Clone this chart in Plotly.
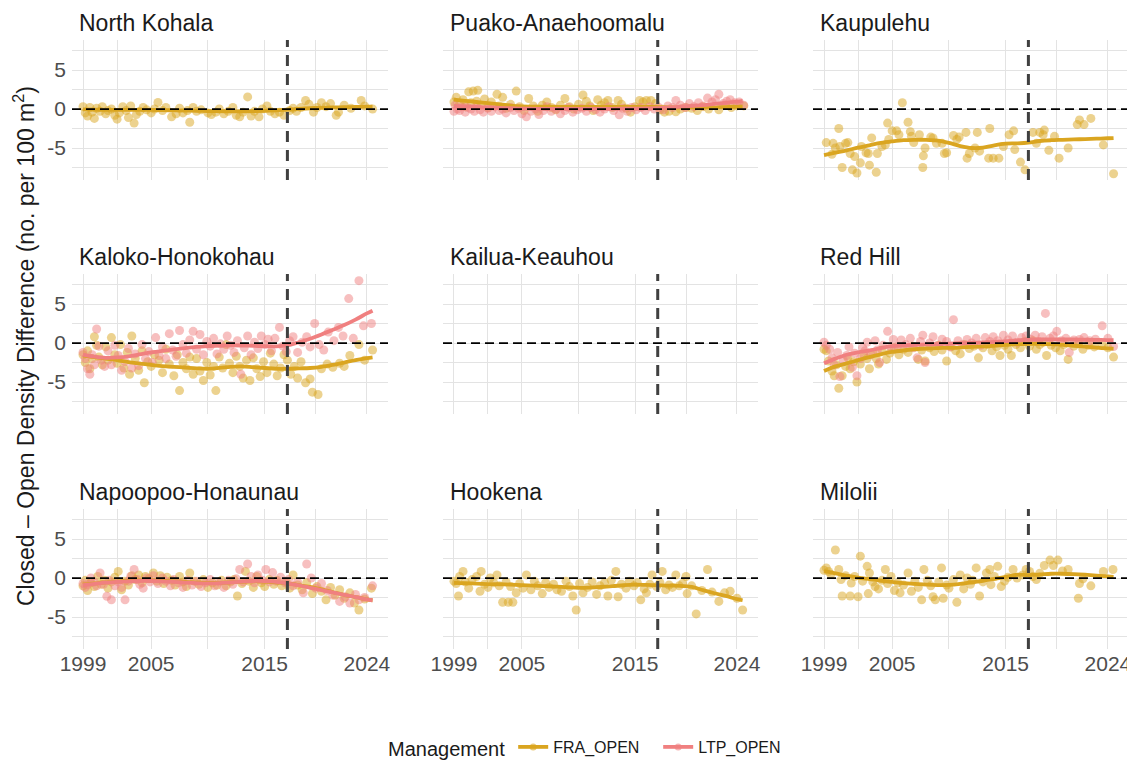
import plotly.graph_objects as go

# ---------------- data ----------------
PANELS = ["North Kohala", "Puako-Anaehoomalu", "Kaupulehu",
          "Kaloko-Honokohau", "Kailua-Keauhou", "Red Hill",
          "Napoopoo-Honaunau", "Hookena", "Milolii"]
SERIES = ["FRA_OPEN", "LTP_OPEN"]

X_TICKS = [1999, 2005, 2015, 2024]
X_MINOR = [2002, 2010, 2019.5]
Y_TICKS = [-5, 0, 5]
Y_MINOR = [-7.5, -2.5, 2.5, 7.5]
CLOSURE_YEAR = 2017
ZERO_LINE = 0
X_RANGE = [1998.03, 2025.86]
Y_RANGE = [-9.1, 8.85]

SMOOTH_YEARS = [1999, 2000, 2001, 2002, 2003, 2004, 2005, 2006, 2007, 2008,
                2009, 2010, 2011, 2012, 2013, 2014, 2015, 2016, 2017, 2018,
                2019, 2020, 2021, 2022, 2023, 2024, 2024.5]

# observed points: (year, closed - open density difference)
north_kohala_fra = [
    (1999.0, 0.3), (1999.2, -0.5), (1999.4, -0.9), (1999.6, 0.2), (1999.8, -0.4),
    (2000.0, -1.2), (2000.2, 0.1), (2000.5, -0.3), (2000.7, 0.3), (2001.0, -0.6),
    (2001.2, -0.2), (2001.5, 0.0), (2001.8, -0.8), (2002.0, -1.3), (2002.2, -0.5),
    (2002.5, 0.3), (2002.8, -0.2), (2003.0, -1.1), (2003.2, 0.4), (2003.5, -1.8),
    (2003.7, -0.7), (2004.0, -0.3), (2004.3, 0.2), (2004.6, -0.1), (2005.0, -0.5),
    (2005.3, 0.0), (2005.6, 0.85), (2006.0, -0.2), (2006.3, 0.2), (2006.8, -1.0),
    (2007.2, -0.6), (2007.5, 0.1), (2007.8, -0.5), (2008.2, -0.2), (2008.4, -1.7),
    (2008.7, 0.2), (2009.0, -0.3), (2009.4, -0.1), (2010.0, -0.5), (2010.3, -0.7),
    (2010.7, -0.4), (2011.0, 0.0), (2011.4, -0.6), (2011.8, -0.3), (2012.2, 0.2),
    (2012.5, -0.8), (2012.8, -1.0), (2013.1, -0.4), (2013.5, 1.55), (2013.8, -0.9),
    (2014.1, -0.3), (2014.5, -1.0), (2014.8, 0.0), (2015.2, 0.4), (2015.5, -0.3),
    (2015.9, -0.6), (2016.3, -0.4), (2016.7, -0.8), (2017.2, -0.2), (2017.5, 0.1),
    (2017.8, -0.3), (2018.2, 0.2), (2018.6, 1.1), (2018.9, 0.6), (2019.3, -0.4),
    (2019.6, 0.2), (2020.0, 0.8), (2020.4, 0.3), (2020.8, 0.7), (2021.3, -0.8),
    (2021.5, -0.4), (2022.0, 0.5), (2022.6, 0.1), (2023.5, 1.1), (2023.8, 0.4),
    (2024.5, 0.0)]

puako_fra = [
    (1999.0, 0.9), (1999.2, 1.5), (1999.5, 0.6), (1999.8, 1.2), (2000.0, 0.3),
    (2000.3, 2.2), (2000.5, 0.8), (2000.7, 2.3), (2001.0, 1.0), (2001.1, 2.4),
    (2001.4, 0.5), (2001.7, 1.3), (2002.0, 0.2), (2002.3, 0.9), (2002.8, 1.9),
    (2003.0, 0.4), (2003.3, 1.5), (2003.6, 0.1), (2004.0, 0.6), (2004.5, 2.3),
    (2004.8, 0.3), (2005.2, -0.2), (2005.6, 1.35), (2006.0, 0.4), (2006.4, -0.3),
    (2006.8, 0.5), (2007.2, 0.9), (2007.6, 0.2), (2008.0, -0.1), (2008.4, 0.5),
    (2008.8, 1.35), (2009.2, 0.3), (2009.6, 0.0), (2010.0, 0.6), (2010.4, 1.8),
    (2010.7, 1.0), (2011.0, 0.4), (2011.3, -0.2), (2011.7, 1.2), (2012.0, 0.5),
    (2012.3, 0.8), (2012.6, 1.1), (2013.0, 0.2), (2013.5, 1.1), (2013.8, 0.6),
    (2014.2, 0.1), (2014.6, -0.4), (2015.0, 0.3), (2015.4, 1.1), (2015.7, 0.9),
    (2016.0, 1.1), (2016.4, 1.1), (2016.8, 0.7), (2017.2, -0.1), (2017.6, -0.4),
    (2018.0, -0.3), (2018.6, -0.35), (2019.0, 0.0), (2019.5, 0.2), (2020.0, 0.1),
    (2020.5, -0.2), (2021.0, 0.3), (2021.5, 0.0), (2022.4, -0.1), (2023.0, 0.5),
    (2023.5, 0.2), (2024.0, 0.4), (2024.6, 0.4)]

puako_ltp = [
    (1999.0, -0.3), (1999.1, 0.5), (1999.3, 0.0), (1999.5, -0.2), (1999.7, 0.3),
    (2000.0, -0.4), (2000.2, 0.2), (2000.5, 0.0), (2000.8, -0.3), (2001.0, 0.4),
    (2001.3, -0.1), (2001.6, -0.4), (2002.0, 0.1), (2002.3, -0.3), (2002.6, 0.3),
    (2003.0, -0.2), (2003.3, 0.0), (2003.6, -0.5), (2004.0, 0.2), (2004.3, -0.2),
    (2004.7, 0.1), (2005.0, -0.6), (2005.4, -1.0), (2005.8, -0.3), (2006.2, 0.0),
    (2006.5, -0.7), (2006.9, -0.2), (2007.2, 0.3), (2007.6, -0.3), (2008.0, 0.0),
    (2008.4, -0.6), (2008.8, -0.2), (2009.1, 0.2), (2009.5, -0.4), (2009.9, -0.1),
    (2010.3, 0.1), (2010.7, -0.3), (2011.1, 0.2), (2011.5, -0.1), (2011.9, -0.4),
    (2012.3, 0.0), (2012.7, 0.3), (2013.1, -0.2), (2013.6, -0.75), (2013.9, 0.1),
    (2014.3, -0.3), (2014.7, 0.2), (2015.1, -0.1), (2015.5, 0.2), (2015.9, -0.2),
    (2016.3, 0.3), (2016.7, 0.0), (2017.1, 0.2), (2017.5, -0.1), (2017.9, 0.4),
    (2018.3, 0.2), (2018.6, 1.1), (2019.0, 0.5), (2019.4, 0.2), (2019.8, 0.7),
    (2020.2, 0.3), (2020.6, 0.8), (2021.0, 0.4), (2021.4, 1.4), (2021.8, 0.9),
    (2022.1, 1.2), (2022.4, 1.9), (2022.8, 0.7), (2023.1, 1.0), (2023.4, 1.2),
    (2023.8, 0.8), (2024.2, 0.9), (2024.6, 0.5)]

kaupulehu_fra = [
    (1999.2, -4.3), (1999.7, -5.8), (1999.8, -4.4), (2000.0, -5.0), (2000.3, -2.5),
    (2000.4, -4.8), (2000.6, -7.5), (2000.9, -4.4), (2001.1, -4.3), (2001.3, -5.7),
    (2001.5, -7.8), (2001.7, -6.1), (2001.9, -8.2), (2002.2, -6.9), (2002.3, -4.8),
    (2002.7, -5.6), (2002.9, -5.7), (2003.0, -7.2), (2003.2, -3.7), (2003.6, -8.1),
    (2003.7, -5.7), (2004.1, -4.8), (2004.4, -4.6), (2004.6, -1.8), (2004.7, -3.9),
    (2005.0, -2.8), (2005.4, -2.8), (2005.6, -3.3), (2005.9, 0.8), (2006.4, -1.7),
    (2006.6, -2.9), (2006.7, -3.5), (2006.9, -4.3), (2007.4, -3.3), (2007.7, -7.5),
    (2007.75, -6.0), (2007.9, -5.0), (2008.4, -3.6), (2008.6, -3.7), (2008.9, -4.4),
    (2009.4, -4.4), (2009.6, -5.7), (2009.8, -5.6), (2010.4, -3.4), (2010.7, -3.9),
    (2010.9, -3.6), (2011.5, -3.0), (2011.6, -6.3), (2011.8, -5.7), (2012.3, -5.0),
    (2012.5, -3.0), (2012.7, -5.4), (2013.5, -6.3), (2013.6, -2.5), (2013.9, -6.3),
    (2014.4, -6.3), (2014.8, -4.8), (2015.3, -3.3), (2015.7, -2.8), (2015.8, -5.2),
    (2016.3, -6.8), (2016.7, -7.8), (2017.4, -3.0), (2017.7, -4.4), (2018.0, -3.0),
    (2018.3, -3.3), (2018.4, -2.7), (2018.8, -5.3), (2019.3, -3.5), (2019.7, -6.3),
    (2020.5, -5.0), (2021.3, -2.0), (2021.5, -1.4), (2021.9, -2.0), (2022.5, -1.2),
    (2023.6, -4.6), (2024.5, -8.3)]

kaloko_fra = [
    (1999.0, -1.5), (1999.2, -2.5), (1999.4, -1.0), (1999.6, -3.3), (1999.8, -2.0),
    (2000.0, 0.8), (2000.2, -0.3), (2000.4, -1.8), (2000.7, -2.8), (2001.0, -0.5),
    (2001.2, -2.2), (2001.5, 0.7), (2001.8, -1.5), (2002.0, -2.6), (2002.3, -0.2),
    (2002.6, -3.2), (2002.9, -1.2), (2003.1, -4.0), (2003.3, 0.9), (2003.6, -2.0),
    (2003.9, -3.5), (2004.2, -1.0), (2004.4, -5.1), (2004.7, -2.4), (2005.0, -3.0),
    (2005.3, -1.5), (2005.7, -2.2), (2006.0, -3.8), (2006.3, -0.8), (2006.6, -2.7),
    (2007.0, -4.2), (2007.3, -1.5), (2007.5, -6.1), (2007.8, -2.5), (2008.1, -3.3),
    (2008.4, -1.8), (2008.7, -4.0), (2009.0, -2.0), (2009.3, -3.6), (2009.6, -4.8),
    (2009.9, -2.5), (2010.2, -4.1), (2010.5, -3.0), (2010.7, -6.1), (2011.0, -1.8),
    (2011.3, -3.2), (2011.6, -0.2), (2011.9, -2.6), (2012.2, -3.8), (2012.5, -1.7),
    (2012.8, -3.0), (2013.1, -4.5), (2013.4, -2.2), (2013.7, -4.8), (2014.0, -1.9),
    (2014.3, -3.3), (2014.6, -4.3), (2014.9, -2.4), (2015.2, -3.8), (2015.5, -1.3),
    (2015.8, -2.7), (2016.1, -4.2), (2016.4, -3.2), (2016.7, -1.5), (2017.0, -2.2),
    (2017.3, -4.0), (2017.6, -3.0), (2017.9, -4.5), (2018.2, -2.4), (2018.6, -5.1),
    (2019.0, -4.6), (2019.2, -6.3), (2019.7, -6.6), (2020.0, -3.3), (2020.5, -2.7),
    (2021.0, -3.1), (2021.6, -2.6), (2022.0, -3.0), (2022.5, -1.6), (2023.3, -0.2),
    (2023.8, -2.2), (2024.5, -0.9)]

kaloko_ltp = [
    (1999.0, -1.2), (1999.2, -2.0), (1999.4, -3.3), (1999.6, -4.0), (1999.8, -1.5),
    (2000.0, -2.8), (2000.2, 1.8), (2000.4, -0.4), (2000.6, -2.2), (2000.9, -3.0),
    (2001.2, -1.0), (2001.5, -2.8), (2001.8, -0.3), (2002.1, -1.6), (2002.4, -3.5),
    (2002.7, -2.4), (2003.0, -0.7), (2003.3, -3.2), (2003.6, -1.4), (2003.9, -2.9),
    (2004.2, -0.2), (2004.5, -2.0), (2004.8, -1.1), (2005.1, -2.5), (2005.4, 0.7),
    (2005.7, -1.6), (2006.0, -0.5), (2006.3, -2.0), (2006.6, 1.2), (2006.9, -0.9),
    (2007.2, -1.7), (2007.5, 1.6), (2007.8, -0.2), (2008.1, -1.3), (2008.4, 0.4),
    (2008.7, 1.5), (2009.0, -0.8), (2009.3, 1.1), (2009.6, -1.5), (2009.9, 0.2),
    (2010.2, -0.4), (2010.5, 0.6), (2010.8, -1.4), (2011.1, -0.1), (2011.4, -0.8),
    (2011.7, 0.9), (2012.0, -0.3), (2012.3, -1.2), (2012.6, 0.3), (2012.9, -4.0),
    (2013.2, -0.6), (2013.5, 0.9), (2013.8, -1.5), (2014.1, 0.1), (2014.4, -0.7),
    (2014.7, 0.9), (2015.0, -0.2), (2015.3, 0.5), (2015.6, -1.0), (2015.9, 0.6),
    (2016.3, 2.0), (2016.6, -0.4), (2016.9, -1.1), (2017.2, 0.3), (2017.5, 0.8),
    (2017.9, -1.2), (2018.3, 0.1), (2018.7, 0.8), (2019.0, -0.5), (2019.4, 2.5),
    (2019.8, -0.2), (2020.2, -0.9), (2020.6, 1.4), (2021.1, 0.3), (2021.5, 2.0),
    (2021.9, 0.9), (2022.4, 5.7), (2022.8, 0.6), (2023.3, 8.0), (2023.7, 2.2),
    (2024.4, 2.5)]

red_hill_fra = [
    (1999.0, -0.8), (1999.2, -1.0), (1999.4, -2.3), (1999.7, -3.6), (1999.9, -4.2),
    (2000.1, -2.8), (2000.3, -5.8), (2000.6, -4.2), (2000.9, -3.0), (2001.1, -1.9),
    (2001.3, -3.3), (2001.6, -2.4), (2001.9, -5.0), (2002.2, -2.7), (2002.5, -1.5),
    (2002.8, -2.0), (2003.0, -3.3), (2003.3, -1.2), (2003.6, -2.0), (2003.8, -2.7),
    (2004.1, -0.9), (2004.5, -2.1), (2004.8, -1.3), (2005.2, -0.6), (2005.6, -1.5),
    (2006.0, -0.8), (2006.4, -1.2), (2006.8, -0.4), (2007.3, -2.1), (2007.6, -0.9),
    (2007.9, -2.3), (2008.3, -0.6), (2008.7, -1.1), (2009.1, -0.3), (2009.4, -0.9),
    (2009.8, -2.3), (2010.2, -0.5), (2010.6, -1.0), (2011.0, -1.4), (2011.4, -0.2),
    (2011.8, -0.7), (2012.2, -0.4), (2012.6, -1.9), (2013.0, -0.6), (2013.4, -0.2),
    (2013.8, -1.0), (2014.2, -0.5), (2014.5, -1.6), (2014.9, -0.3), (2015.2, -0.8),
    (2015.5, -1.6), (2015.9, -0.2), (2016.3, -0.6), (2016.7, 0.2), (2017.1, -0.4),
    (2017.4, 0.3), (2017.7, -0.8), (2018.0, -0.2), (2018.3, 0.1), (2018.6, -1.6),
    (2019.0, -0.3), (2019.4, -0.6), (2019.8, -1.0), (2020.1, -0.2), (2020.5, -2.1),
    (2021.0, -0.4), (2021.4, -0.1), (2021.8, -0.8), (2022.3, -0.3), (2022.8, -0.5),
    (2023.5, -0.2), (2024.0, -0.6), (2024.5, -1.8)]

red_hill_ltp = [
    (1999.0, 0.1), (1999.2, -0.3), (1999.5, -0.8), (1999.7, -1.9), (1999.9, -2.8),
    (2000.2, -1.2), (2000.4, -4.3), (2000.7, -2.2), (2001.0, -1.6), (2001.2, -0.5),
    (2001.5, -3.1), (2001.7, -1.3), (2001.9, -4.2), (2002.2, -2.0), (2002.4, -0.6),
    (2002.6, -1.0), (2002.8, 0.1), (2003.1, -1.5), (2003.5, 0.3), (2003.7, -0.9),
    (2003.9, -2.5), (2004.2, -0.3), (2004.6, 1.5), (2004.9, -0.6), (2005.1, 0.45),
    (2005.5, -0.4), (2005.8, 0.4), (2006.2, -0.2), (2006.6, 0.6), (2006.9, -0.6),
    (2007.2, -1.9), (2007.5, 0.2), (2007.7, 1.0), (2007.9, -2.5), (2008.3, 0.0),
    (2008.6, 0.8), (2009.0, -0.3), (2009.4, 0.5), (2009.8, 0.2), (2010.1, -0.5),
    (2010.4, 3.0), (2010.8, 0.3), (2011.2, -0.2), (2011.6, 0.45), (2012.0, 0.0),
    (2012.4, 0.6), (2012.8, -0.3), (2013.2, 0.7), (2013.6, 0.2), (2013.9, 0.8),
    (2014.3, 0.3), (2014.8, 1.0), (2015.2, 0.4), (2015.6, 0.9), (2016.0, 0.1),
    (2016.4, 0.7), (2016.8, 0.9), (2017.2, 0.5), (2017.6, 1.0), (2017.9, 0.2),
    (2018.2, 0.8), (2018.5, 3.8), (2018.9, 0.6), (2019.2, 0.9), (2019.5, 1.5),
    (2019.9, 0.3), (2020.3, 0.6), (2020.6, -1.2), (2021.0, 0.4), (2021.5, 0.45),
    (2021.9, 0.7), (2022.4, 0.3), (2022.9, 0.5), (2023.5, 2.2), (2024.0, 0.6),
    (2024.5, -0.45)]

napoopoo_fra = [
    (1999.0, -1.0), (1999.2, -0.3), (1999.4, -1.6), (1999.7, -0.6), (2000.0, -1.1),
    (2000.3, 0.2), (2000.6, -0.8), (2000.9, -0.3), (2001.2, -1.3), (2001.5, -0.5),
    (2001.8, 0.1), (2002.1, 0.85), (2002.4, -1.5), (2002.7, -0.4), (2003.0, -0.9),
    (2003.3, 0.3), (2003.6, -0.2), (2003.9, 0.4), (2004.2, -0.6), (2004.5, 0.2),
    (2004.8, -0.1), (2005.2, 0.65), (2005.5, -0.4), (2005.8, 0.3), (2006.1, -0.7),
    (2006.4, 0.1), (2006.8, -0.3), (2007.1, -0.9), (2007.5, 0.2), (2007.8, -0.5),
    (2008.1, -1.1), (2008.4, 0.65), (2008.8, -0.4), (2009.2, -0.8), (2009.6, -0.2),
    (2010.0, -1.2), (2010.4, -0.6), (2010.8, -0.9), (2011.2, -0.3), (2011.6, -1.0),
    (2012.0, -0.5), (2012.3, -0.2), (2012.6, -2.3), (2013.0, -0.7), (2013.3, 0.85),
    (2013.6, -0.4), (2014.0, -1.2), (2014.3, 0.2), (2014.7, -0.6), (2015.0, -1.1),
    (2015.4, -0.2), (2015.8, -0.8), (2016.1, -0.3), (2016.5, -1.0), (2016.9, -0.5),
    (2017.2, -1.3), (2017.5, 0.4), (2017.9, -0.9), (2018.3, -1.5), (2018.7, -0.6),
    (2019.2, -2.0), (2019.6, -1.1), (2020.0, -1.7), (2020.4, -2.8), (2020.8, -1.2),
    (2021.2, -2.2), (2021.6, -1.5), (2022.0, -2.6), (2022.5, -1.9), (2022.9, -3.2),
    (2023.3, -4.1), (2023.8, -2.7), (2024.4, -1.3)]

napoopoo_ltp = [
    (1999.0, -0.7), (1999.2, -1.2), (1999.4, -0.85), (1999.7, 0.0), (2000.0, -0.5),
    (2000.2, -1.0), (2000.5, 0.65), (2000.8, -0.8), (2001.1, -2.35), (2001.3, -0.3),
    (2001.5, -2.8), (2001.8, -1.0), (2002.1, -0.5), (2002.4, -1.2), (2002.7, -2.8),
    (2003.0, -0.4), (2003.2, 0.2), (2003.5, 1.1), (2003.8, -0.2), (2004.0, -0.8),
    (2004.3, -1.3), (2004.6, 0.0), (2004.9, -0.5), (2005.2, 0.3), (2005.6, -0.7),
    (2006.0, 0.0), (2006.3, -0.4), (2006.7, -1.0), (2007.0, -0.2), (2007.4, -0.6),
    (2007.8, -1.2), (2008.2, -0.3), (2008.6, -0.9), (2009.0, -0.4), (2009.4, -1.1),
    (2009.8, -0.6), (2010.2, -0.2), (2010.6, -1.0), (2011.0, -0.5), (2011.4, -1.2),
    (2011.8, -0.3), (2012.2, -0.8), (2012.5, -0.1), (2012.8, 1.1), (2013.1, -0.5),
    (2013.5, 1.8), (2013.8, 0.2), (2014.1, -0.6), (2014.4, 0.4), (2014.8, -0.3),
    (2015.1, 1.1), (2015.4, -0.5), (2015.7, 0.7), (2016.0, -0.4), (2016.4, 0.1),
    (2016.8, -0.6), (2017.1, -0.2), (2017.5, -1.0), (2017.9, -0.5), (2018.4, -1.9),
    (2018.7, 1.8), (2019.1, 0.0), (2019.5, -1.3), (2020.0, -0.7), (2020.5, -1.6),
    (2021.0, -2.2), (2021.6, -3.0), (2022.1, -2.4), (2022.5, -3.2), (2023.0, -2.1),
    (2023.3, -2.8), (2023.8, -2.5), (2024.5, -1.0)]

hookena_fra = [
    (1999.0, -0.4), (1999.2, -0.7), (1999.4, -2.3), (1999.5, 0.2), (1999.8, 0.85),
    (2000.0, -0.5), (2000.3, -1.3), (2000.6, -0.2), (2001.0, 0.2), (2001.3, -1.7),
    (2001.4, 0.85), (2001.7, -0.8), (2002.0, -1.2), (2002.2, 0.0), (2002.5, -0.6),
    (2002.8, 0.4), (2003.0, -1.0), (2003.3, -3.1), (2003.6, -0.5), (2003.8, -3.1),
    (2004.0, -1.1), (2004.2, -3.1), (2004.5, -1.9), (2004.8, -0.7), (2005.1, -1.3),
    (2005.4, 0.4), (2005.8, -1.5), (2006.1, -0.4), (2006.4, -1.0), (2006.8, -2.0),
    (2007.1, -0.6), (2007.4, -1.2), (2007.8, -0.8), (2008.1, -1.5), (2008.5, -1.7),
    (2008.9, -0.4), (2009.2, -1.1), (2009.5, -2.3), (2009.8, -4.1), (2010.1, -0.7),
    (2010.4, -1.9), (2010.8, -1.2), (2011.2, -0.5), (2011.6, -2.1), (2011.9, -1.0),
    (2012.3, -0.6), (2012.6, -2.3), (2012.9, -0.3), (2013.3, 0.85), (2013.5, -2.4),
    (2013.8, -0.8), (2014.2, -1.3), (2014.5, -0.4), (2014.9, -1.0), (2015.2, -0.6),
    (2015.5, -2.8), (2015.8, -1.4), (2016.0, -1.9), (2016.3, -0.8), (2016.5, 0.4),
    (2016.9, -1.1), (2017.2, -0.6), (2017.4, 0.85), (2017.7, -1.5), (2018.0, -0.9),
    (2018.3, -1.2), (2018.6, 0.4), (2018.9, -1.0), (2019.2, -0.7), (2019.5, 0.2),
    (2019.6, -2.0), (2020.0, -1.0), (2020.4, -4.6), (2020.9, -1.6), (2021.4, 1.1),
    (2021.8, -1.8), (2022.4, -3.0), (2022.9, -1.9), (2023.4, -1.7), (2024.0, -2.6),
    (2024.5, -4.1)]

milolii_fra = [
    (1999.0, 1.0), (1999.2, 1.3), (1999.4, 0.85), (1999.6, 0.5), (2000.0, 3.6),
    (2000.3, 1.1), (2000.5, -0.2), (2000.6, -2.3), (2000.9, 0.3), (2001.3, -2.3),
    (2001.4, -0.65), (2001.7, 0.2), (2002.0, -2.4), (2002.2, 2.8), (2002.4, -0.4),
    (2002.8, 1.5), (2002.9, -2.0), (2003.0, 0.65), (2003.3, -0.5), (2003.5, -1.1),
    (2003.8, -1.4), (2004.1, -0.3), (2004.4, 1.1), (2004.6, -0.7), (2004.9, 0.2),
    (2005.2, -1.6), (2005.5, -0.6), (2005.7, -1.9), (2006.0, -0.9), (2006.4, 0.65),
    (2006.7, -1.7), (2007.0, -0.4), (2007.3, -1.2), (2007.6, -2.8), (2007.8, 1.1),
    (2008.1, -0.3), (2008.4, -1.0), (2008.6, -2.4), (2008.8, -2.8), (2009.1, -0.5),
    (2009.35, 1.3), (2009.5, -2.6), (2009.8, -0.9), (2010.0, -1.3), (2010.4, -0.2),
    (2010.7, -3.1), (2011.0, 0.4), (2011.3, -1.4), (2011.6, 0.0), (2011.9, -0.8),
    (2012.1, -0.3), (2012.4, 1.3), (2012.7, -2.3), (2013.0, -0.5), (2013.3, 0.65),
    (2013.6, 1.1), (2013.7, -0.85), (2014.0, 0.2), (2014.3, 1.5), (2014.6, -1.1),
    (2014.9, -0.4), (2015.2, 0.1), (2015.65, 1.1), (2016.0, 0.0), (2016.5, 0.4),
    (2016.8, 1.1), (2017.1, 0.85), (2017.4, 0.2), (2017.7, -0.2), (2018.0, 0.6),
    (2018.4, 1.6), (2018.9, 2.3), (2019.2, 1.6), (2019.6, 2.3), (2020.0, 0.9),
    (2020.5, 1.1), (2021.4, -2.6), (2021.5, -0.7), (2021.8, -0.1), (2022.5, -1.0),
    (2023.6, 0.85), (2024.45, 1.1)]

# loess smooth curves read at SMOOTH_YEARS
north_kohala_fra_smooth = [-0.05, -0.08, -0.1, -0.12, -0.12, -0.12, -0.12, -0.14, -0.17, -0.2,
                           -0.23, -0.26, -0.28, -0.3, -0.3, -0.28, -0.25, -0.18, -0.08, 0.02,
                           0.1, 0.16, 0.2, 0.24, 0.27, 0.3, 0.32]
puako_fra_smooth = [1.2, 1.05, 0.9, 0.75, 0.6, 0.45, 0.35, 0.3, 0.3, 0.28,
                    0.28, 0.28, 0.28, 0.28, 0.28, 0.28, 0.28, 0.28, 0.25, 0.22,
                    0.2, 0.2, 0.2, 0.22, 0.25, 0.28, 0.3]
puako_ltp_smooth = [0.4, 0.35, 0.28, 0.2, 0.15, 0.1, 0.05, 0.03, 0.02, 0.02,
                    0.02, 0.02, 0.02, 0.03, 0.03, 0.04, 0.05, 0.08, 0.12, 0.2,
                    0.3, 0.4, 0.5, 0.65, 0.8, 0.95, 1.05]
kaupulehu_fra_smooth = [-5.9, -5.6, -5.3, -4.95, -4.65, -4.35, -4.15, -4.0, -3.95, -3.95,
                        -4.05, -4.35, -4.75, -5.0, -4.95, -4.65, -4.45, -4.4, -4.3, -4.1,
                        -4.0, -3.95, -3.9, -3.85, -3.8, -3.75, -3.72]
kaloko_fra_smooth = [-1.6, -1.8, -2.0, -2.2, -2.45, -2.65, -2.8, -2.95, -3.05, -3.15,
                     -3.25, -3.3, -3.2, -3.05, -3.0, -3.1, -3.2, -3.3, -3.3, -3.25,
                     -3.2, -3.05, -2.8, -2.5, -2.2, -1.95, -1.85]
kaloko_ltp_smooth = [-1.5, -1.75, -1.9, -1.85, -1.7, -1.45, -1.2, -1.0, -0.82, -0.65,
                     -0.5, -0.4, -0.32, -0.3, -0.32, -0.36, -0.4, -0.42, -0.3, 0.1,
                     0.55, 1.1, 1.7, 2.3, 3.0, 3.8, 4.15]
red_hill_fra_smooth = [-3.6, -3.0, -2.6, -2.2, -1.8, -1.45, -1.15, -0.95, -0.8, -0.7,
                       -0.65, -0.62, -0.58, -0.5, -0.43, -0.35, -0.25, -0.15, -0.1, -0.1,
                       -0.15, -0.25, -0.35, -0.45, -0.58, -0.68, -0.72]
red_hill_ltp_smooth = [-2.6, -2.0, -1.5, -1.2, -0.95, -0.65, -0.4, -0.3, -0.22, -0.18,
                       -0.13, -0.08, -0.03, 0.02, 0.08, 0.15, 0.25, 0.35, 0.42, 0.45,
                       0.45, 0.45, 0.45, 0.42, 0.4, 0.38, 0.37]
napoopoo_fra_smooth = [-0.85, -0.7, -0.55, -0.45, -0.35, -0.3, -0.3, -0.35, -0.42, -0.5,
                       -0.58, -0.62, -0.62, -0.55, -0.48, -0.42, -0.45, -0.55, -0.7, -0.9,
                       -1.15, -1.45, -1.8, -2.15, -2.45, -2.75, -2.85]
napoopoo_ltp_smooth = [-0.9, -0.75, -0.6, -0.5, -0.42, -0.38, -0.38, -0.42, -0.5, -0.58,
                       -0.65, -0.68, -0.65, -0.55, -0.45, -0.38, -0.4, -0.5, -0.7, -0.95,
                       -1.25, -1.55, -1.85, -2.15, -2.45, -2.75, -2.85]
hookena_fra_smooth = [-0.62, -0.67, -0.72, -0.77, -0.8, -0.85, -0.9, -0.97, -1.03, -1.1,
                      -1.18, -1.25, -1.22, -1.15, -1.05, -0.92, -0.85, -0.88, -0.93, -0.98,
                      -1.0, -1.15, -1.55, -1.95, -2.3, -2.7, -2.85]
milolii_fra_smooth = [0.9, 0.6, 0.3, 0.05, -0.15, -0.35, -0.5, -0.65, -0.75, -0.85,
                      -0.9, -0.88, -0.75, -0.55, -0.35, -0.1, 0.15, 0.42, 0.38, 0.45,
                      0.55, 0.55, 0.5, 0.42, 0.32, 0.2, 0.15]

PANEL_DATA = {
    "North Kohala": {"FRA_OPEN": (north_kohala_fra, north_kohala_fra_smooth)},
    "Puako-Anaehoomalu": {"FRA_OPEN": (puako_fra, puako_fra_smooth),
                          "LTP_OPEN": (puako_ltp, puako_ltp_smooth)},
    "Kaupulehu": {"FRA_OPEN": (kaupulehu_fra, kaupulehu_fra_smooth)},
    "Kaloko-Honokohau": {"FRA_OPEN": (kaloko_fra, kaloko_fra_smooth),
                         "LTP_OPEN": (kaloko_ltp, kaloko_ltp_smooth)},
    "Kailua-Keauhou": {},
    "Red Hill": {"FRA_OPEN": (red_hill_fra, red_hill_fra_smooth),
                 "LTP_OPEN": (red_hill_ltp, red_hill_ltp_smooth)},
    "Napoopoo-Honaunau": {"FRA_OPEN": (napoopoo_fra, napoopoo_fra_smooth),
                          "LTP_OPEN": (napoopoo_ltp, napoopoo_ltp_smooth)},
    "Hookena": {"FRA_OPEN": (hookena_fra, hookena_fra_smooth)},
    "Milolii": {"FRA_OPEN": (milolii_fra, milolii_fra_smooth)},
}

# ---------------- style / layout ----------------
W, H = 1135, 764
PAGE_OFFSET = 8          # default page margin around the figure div
COLORS = {"FRA_OPEN": "#DAA520", "LTP_OPEN": "#F08080"}
FONT = "Liberation Sans, Arial, Helvetica, sans-serif"
GRID = "#e3e3e3"
COL_LEFT = [72, 443, 813]
COL_RIGHT = [388, 758, 1129]
ROW_TOP = [40, 274, 509]
ROW_BOTTOM = [180, 414, 649]


def fx(px):
    return (px - PAGE_OFFSET) / W


def fy(py):
    return 1 - (py - PAGE_OFFSET) / H


fig = go.Figure()
layout = {}
shapes = []
annotations = []

for k, name in enumerate(PANELS):
    r, c = divmod(k, 3)
    sfx = "" if k == 0 else str(k + 1)
    xa, ya = "x" + sfx, "y" + sfx
    layout["xaxis" + sfx] = dict(
        domain=[fx(COL_LEFT[c]), fx(COL_RIGHT[c])], anchor=ya, automargin=False,
        range=X_RANGE, tickvals=X_TICKS, ticktext=[str(v) for v in X_TICKS],
        showticklabels=(r == 2), ticks="", zeroline=False, showline=False,
        showgrid=True, gridcolor=GRID, gridwidth=1,
        minor=dict(tickvals=X_MINOR, showgrid=True, gridcolor=GRID, gridwidth=0.8, ticks=""),
        tickfont=dict(family=FONT, size=21, color="#4d4d4d"), fixedrange=True)
    layout["yaxis" + sfx] = dict(
        domain=[fy(ROW_BOTTOM[r]), fy(ROW_TOP[r])], anchor=xa, automargin=False,
        range=Y_RANGE, tickvals=Y_TICKS, ticktext=[str(v) for v in Y_TICKS],
        showticklabels=(c == 0), ticks="", zeroline=False, showline=False,
        ticklabelstandoff=5,
        showgrid=True, gridcolor=GRID, gridwidth=1,
        minor=dict(tickvals=Y_MINOR, showgrid=True, gridcolor=GRID, gridwidth=0.8, ticks=""),
        tickfont=dict(family=FONT, size=21, color="#4d4d4d"), fixedrange=True)

    series = PANEL_DATA[name]
    # points first, then smooth lines (ggplot layer order)
    for s in SERIES:
        if s in series:
            pts = series[s][0]
            fig.add_trace(go.Scatter(
                x=[p[0] for p in pts], y=[p[1] for p in pts], mode="markers",
                xaxis=xa, yaxis=ya, showlegend=False, hoverinfo="skip",
                marker=dict(size=9, color=COLORS[s], opacity=0.5, line=dict(width=0))))
    for s in SERIES:
        if s in series:
            fig.add_trace(go.Scatter(
                x=SMOOTH_YEARS, y=series[s][1], mode="lines",
                xaxis=xa, yaxis=ya, showlegend=False, hoverinfo="skip",
                line=dict(color=COLORS[s], width=3.8, shape="spline", smoothing=1.0)))

    shapes.append(dict(type="line", xref=xa + " domain", yref=ya, x0=0, x1=1,
                       y0=ZERO_LINE, y1=ZERO_LINE, layer="above",
                       line=dict(color="black", width=1.8, dash="9px,5px")))
    shapes.append(dict(type="line", xref=xa, yref=ya + " domain", x0=CLOSURE_YEAR,
                       x1=CLOSURE_YEAR, y0=0, y1=1, layer="above",
                       line=dict(color="#404040", width=3, dash="11px,8px")))

    annotations.append(dict(
        text=name, xref="paper", yref="paper", x=fx(COL_LEFT[c] + 5),
        y=fy(ROW_TOP[r] - 17), xanchor="left", yanchor="middle", showarrow=False,
        font=dict(family=FONT, size=23, color="#1a1a1a")))

annotations.append(dict(
    text="Closed \u2013 Open Density Difference (no. per 100 m<sup>2</sup>)",
    xref="paper", yref="paper", x=fx(24), y=fy(346), textangle=-90,
    xanchor="center", yanchor="middle", showarrow=False,
    font=dict(family=FONT, size=23, color="#1a1a1a")))

# legend entries
for s in SERIES:
    fig.add_trace(go.Scatter(
        x=[None], y=[None], mode="lines+markers", name=s,
        line=dict(color=COLORS[s], width=3.8),
        marker=dict(size=7, color=COLORS[s], opacity=0.6)))

fig.update_layout(
    width=W, height=H, margin=dict(l=0, r=0, t=0, b=0, autoexpand=False),
    paper_bgcolor="white", plot_bgcolor="white",
    shapes=shapes, annotations=annotations,
    showlegend=True,
    legend=dict(orientation="h", x=fx(386), xanchor="left", y=fy(748),
                yanchor="middle", title=dict(text="Management", side="left",
                font=dict(family=FONT, size=20, color="#1a1a1a")),
                font=dict(family=FONT, size=16, color="#1a1a1a"),
                itemwidth=30, entrywidth=100, bgcolor="rgba(0,0,0,0)"),
    font=dict(family=FONT),
    **layout)

fig.write_html("out.html")
